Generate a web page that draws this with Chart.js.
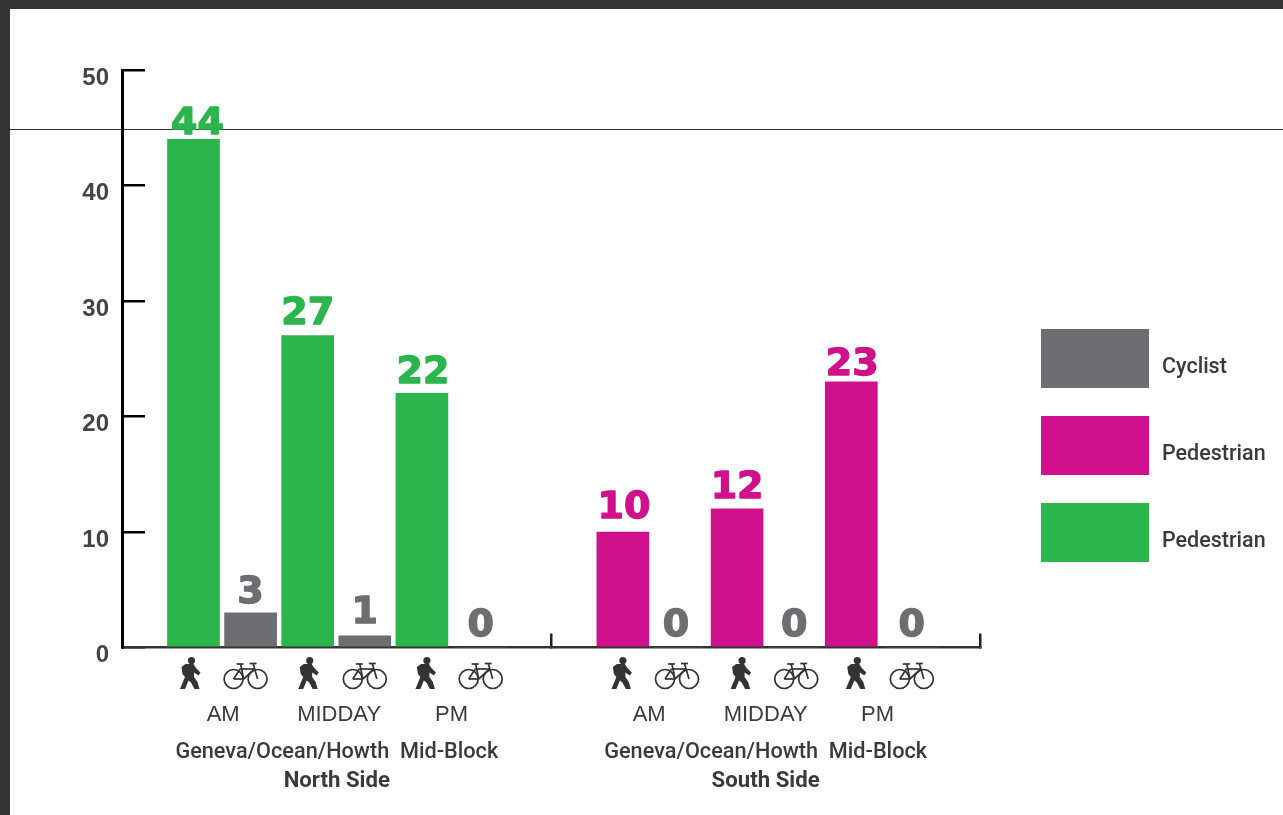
<!DOCTYPE html>
<html>
<head>
<meta charset="utf-8">
<title>Pedestrian and cyclist counts</title>
<script src="https://cdn.jsdelivr.net/npm/chart.js@4"></script>
<style>
    html, body { margin: 0; padding: 0; background: #fff; overflow: hidden; }
    .frame { position: absolute; background: #333333; }
    #frame-top { left: 0; top: 0; width: 1283px; height: 9px; }
    #frame-left { left: 0; top: 0; width: 10px; height: 815px; }
    #rule { left: 10px; top: 129px; width: 1273px; height: 1px; }
    #chart { position: absolute; left: 0; top: 0; }
</style>
</head>
<body>
<div class="frame" id="frame-top"></div>
<div class="frame" id="frame-left"></div>
<div class="frame" id="rule"></div>
<canvas id="chart" width="1283" height="815"></canvas>
<script>
// Values
const seriesNames = ['Cyclist', 'Pedestrian', 'Pedestrian'];
const cyclistValues = [3, 1, 0, 0, 0, 0];
const southPedestrianValues = [10, 12, 23];
const northPedestrianValues = [44, 27, 22];
const yTickValues = [0, 10, 20, 30, 40, 50];
const periodLabels = ['AM', 'MIDDAY', 'PM', 'AM', 'MIDDAY', 'PM'];
const groupLabels = ['Geneva/Ocean/Howth  Mid-Block', 'Geneva/Ocean/Howth  Mid-Block'];
const sideLabels = ['North Side', 'South Side'];

// Slot numbers along the x scale, one slot is one bar pitch
const cyclistSlots = [1, 3, 5.03, 8.45, 10.52, 12.58];
const southPedestrianSlots = [7.52, 9.52, 11.52];
const northPedestrianSlots = [0, 2, 4];
const periodSlots = [0.52, 2.55, 4.52, 7.98, 10.02, 11.98];
const groupSlots = [2.51, 10.02];
const dividerSlots = [6.26, 13.774];

const GREY = '#6d6e71';
const MAGENTA = '#d0118b';
const GREEN = '#2bb54d';
const TEXT = '#3a3a3c';

// how far each value label sits above its bar, per dataset
const cyclistLift = [10, 13, 12, 12, 12, 12];
const southLift = [14, 11, 7];
const northLift = [5, 12, 10];
// sideways shift of the value labels that are not centred on their bar
const cyclistShift = [0, 0, 0, 0, 0, 0];
const southShift = [1, 0, 1];
const northShift = [4, 0, 1];

const walkerShape = new Path2D('M7 7 L15 7 L17.5 11 L22 15.5 L20 18.5 L15.5 15.5 L15.5 20 L19 25 L21 32 L16 32 L12.5 25.5 L10 23.5 L6.5 32 L1.5 32 L6.5 20 L4 17 L3 10 Z');
const bikeLines = [
    [10, 18, 20, 18], [20, 18, 31, 8], [16.5, 8, 31, 8], [17, 3, 20, 18], [10, 18, 16.5, 8],
    [34, 18, 29.5, 2.5], [26, 2.5, 33, 2.5], [13, 3, 20, 3]
];

function toPoints(slots, values) {
    return values.map((v, i) => ({ x: slots[i], y: v }));
}

function drawWalker(ctx, cx) {
    ctx.save();
    ctx.translate(cx - 11, 657);
    ctx.fillStyle = '#333333';
    ctx.fill(walkerShape);
    ctx.beginPath();
    ctx.arc(13, 3.6, 3.6, 0, Math.PI * 2);
    ctx.fill();
    ctx.restore();
}

function drawBike(ctx, cx) {
    ctx.save();
    ctx.translate(cx - 22, 661);
    ctx.strokeStyle = '#333333';
    ctx.lineWidth = 1.7;
    [10, 34].forEach(wx => {
        ctx.beginPath();
        ctx.arc(wx, 18, 9.5, 0, Math.PI * 2);
        ctx.stroke();
    });
    bikeLines.forEach(l => {
        ctx.beginPath();
        ctx.moveTo(l[0], l[1]);
        ctx.lineTo(l[2], l[3]);
        ctx.stroke();
    });
    ctx.restore();
}

const annotations = {
    id: 'annotations',
    afterDatasetsDraw(chart) {
        const ctx = chart.ctx;
        const x = chart.scales.x;

        // value labels over the bars, stroked a little to get the heavy look
        ctx.save();
        ctx.textAlign = 'center';
        ctx.textBaseline = 'alphabetic';
        ctx.font = 'bold 38px "DejaVu Sans"';
        ctx.lineWidth = 1.4;
        ctx.lineJoin = 'round';
        chart.data.datasets.forEach((ds, d) => {
            chart.getDatasetMeta(d).data.forEach((bar, i) => {
                const text = String(ds.data[i].y);
                ctx.fillStyle = ds.backgroundColor;
                ctx.strokeStyle = ds.backgroundColor;
                ctx.fillText(text, bar.x + ds.shift[i], bar.y - ds.lift[i]);
                ctx.strokeText(text, bar.x + ds.shift[i], bar.y - ds.lift[i]);
            });
        });
        ctx.restore();

        // pictograms under the axis
        const walkerNudge = [-4, 0, 3, -2, 3, 4];
        [...northPedestrianSlots, ...southPedestrianSlots].forEach((s, i) => {
            drawWalker(ctx, x.getPixelForValue(s) + walkerNudge[i]);
        });
        const bikeNudge = [-5, 0, 0, 1, 2, 0];
        cyclistSlots.forEach((s, i) => {
            drawBike(ctx, x.getPixelForValue(s) + bikeNudge[i]);
        });

        // period, location and side captions
        ctx.save();
        ctx.textAlign = 'center';
        ctx.textBaseline = 'middle';
        ctx.fillStyle = TEXT;
        ctx.font = '22px "Liberation Sans"';
        periodLabels.forEach((label, i) => {
            ctx.fillText(label, x.getPixelForValue(periodSlots[i]), 715);
        });
        ctx.font = '500 21.7px Roboto';
        groupLabels.forEach((label, i) => {
            ctx.fillText(label, x.getPixelForValue(groupSlots[i]), 753);
        });
        ctx.font = 'bold 22.2px Roboto';
        sideLabels.forEach((label, i) => {
            ctx.fillText(label, x.getPixelForValue(groupSlots[i]), 781);
        });
        ctx.restore();

        // legend on the right
        ctx.save();
        ctx.textAlign = 'left';
        ctx.textBaseline = 'middle';
        ctx.font = '500 21.5px Roboto';
        chart.data.datasets.forEach((ds, d) => {
            const top = 329 + d * 87;
            ctx.fillStyle = ds.backgroundColor;
            ctx.fillRect(1041, top, 108, 59);
            ctx.fillStyle = TEXT;
            ctx.fillText(ds.label, 1162, top + 39);
        });
        ctx.restore();
    }
};

new Chart(document.getElementById('chart'), {
    type: 'bar',
    data: {
        datasets: [
            { label: seriesNames[0], data: toPoints(cyclistSlots, cyclistValues), backgroundColor: GREY, lift: cyclistLift, shift: cyclistShift },
            { label: seriesNames[1], data: toPoints(southPedestrianSlots, southPedestrianValues), backgroundColor: MAGENTA, lift: southLift, shift: southShift },
            { label: seriesNames[2], data: toPoints(northPedestrianSlots, northPedestrianValues), backgroundColor: GREEN, lift: northLift, shift: northShift }
        ]
    },
    options: {
        responsive: false,
        animation: false,
        layout: { padding: { left: 0, top: 70, right: 303, bottom: 0 } },
        datasets: { bar: { barThickness: 52, grouped: false } },
        plugins: { legend: { display: false }, tooltip: { enabled: false } },
        scales: {
            x: {
                type: 'linear',
                offset: false,
                min: -1.252,
                max: 13.774,
                afterBuildTicks: scale => { scale.ticks = dividerSlots.map(v => ({ value: v })); },
                afterFit: scale => { scale.height = 167.5; },
                ticks: { display: false },
                grid: { offset: false, drawOnChartArea: false, tickLength: -14, color: '#222222', lineWidth: 2.5 },
                border: { color: '#333333', width: 2.5 }
            },
            y: {
                min: 0,
                max: 50,
                afterBuildTicks: scale => { scale.ticks = yTickValues.map(v => ({ value: v })); },
                afterFit: scale => { scale.width = 122; },
                ticks: {
                    padding: 36,
                    labelOffset: 8,
                    color: '#444446',
                    font: { family: '"Liberation Sans"', size: 24, weight: 'bold' }
                },
                grid: { drawOnChartArea: false, tickLength: -23, color: '#000000', lineWidth: 2.5 },
                border: { color: '#000000', width: 3 }
            }
        }
    },
    plugins: [annotations]
});
</script>
</body>
</html>
